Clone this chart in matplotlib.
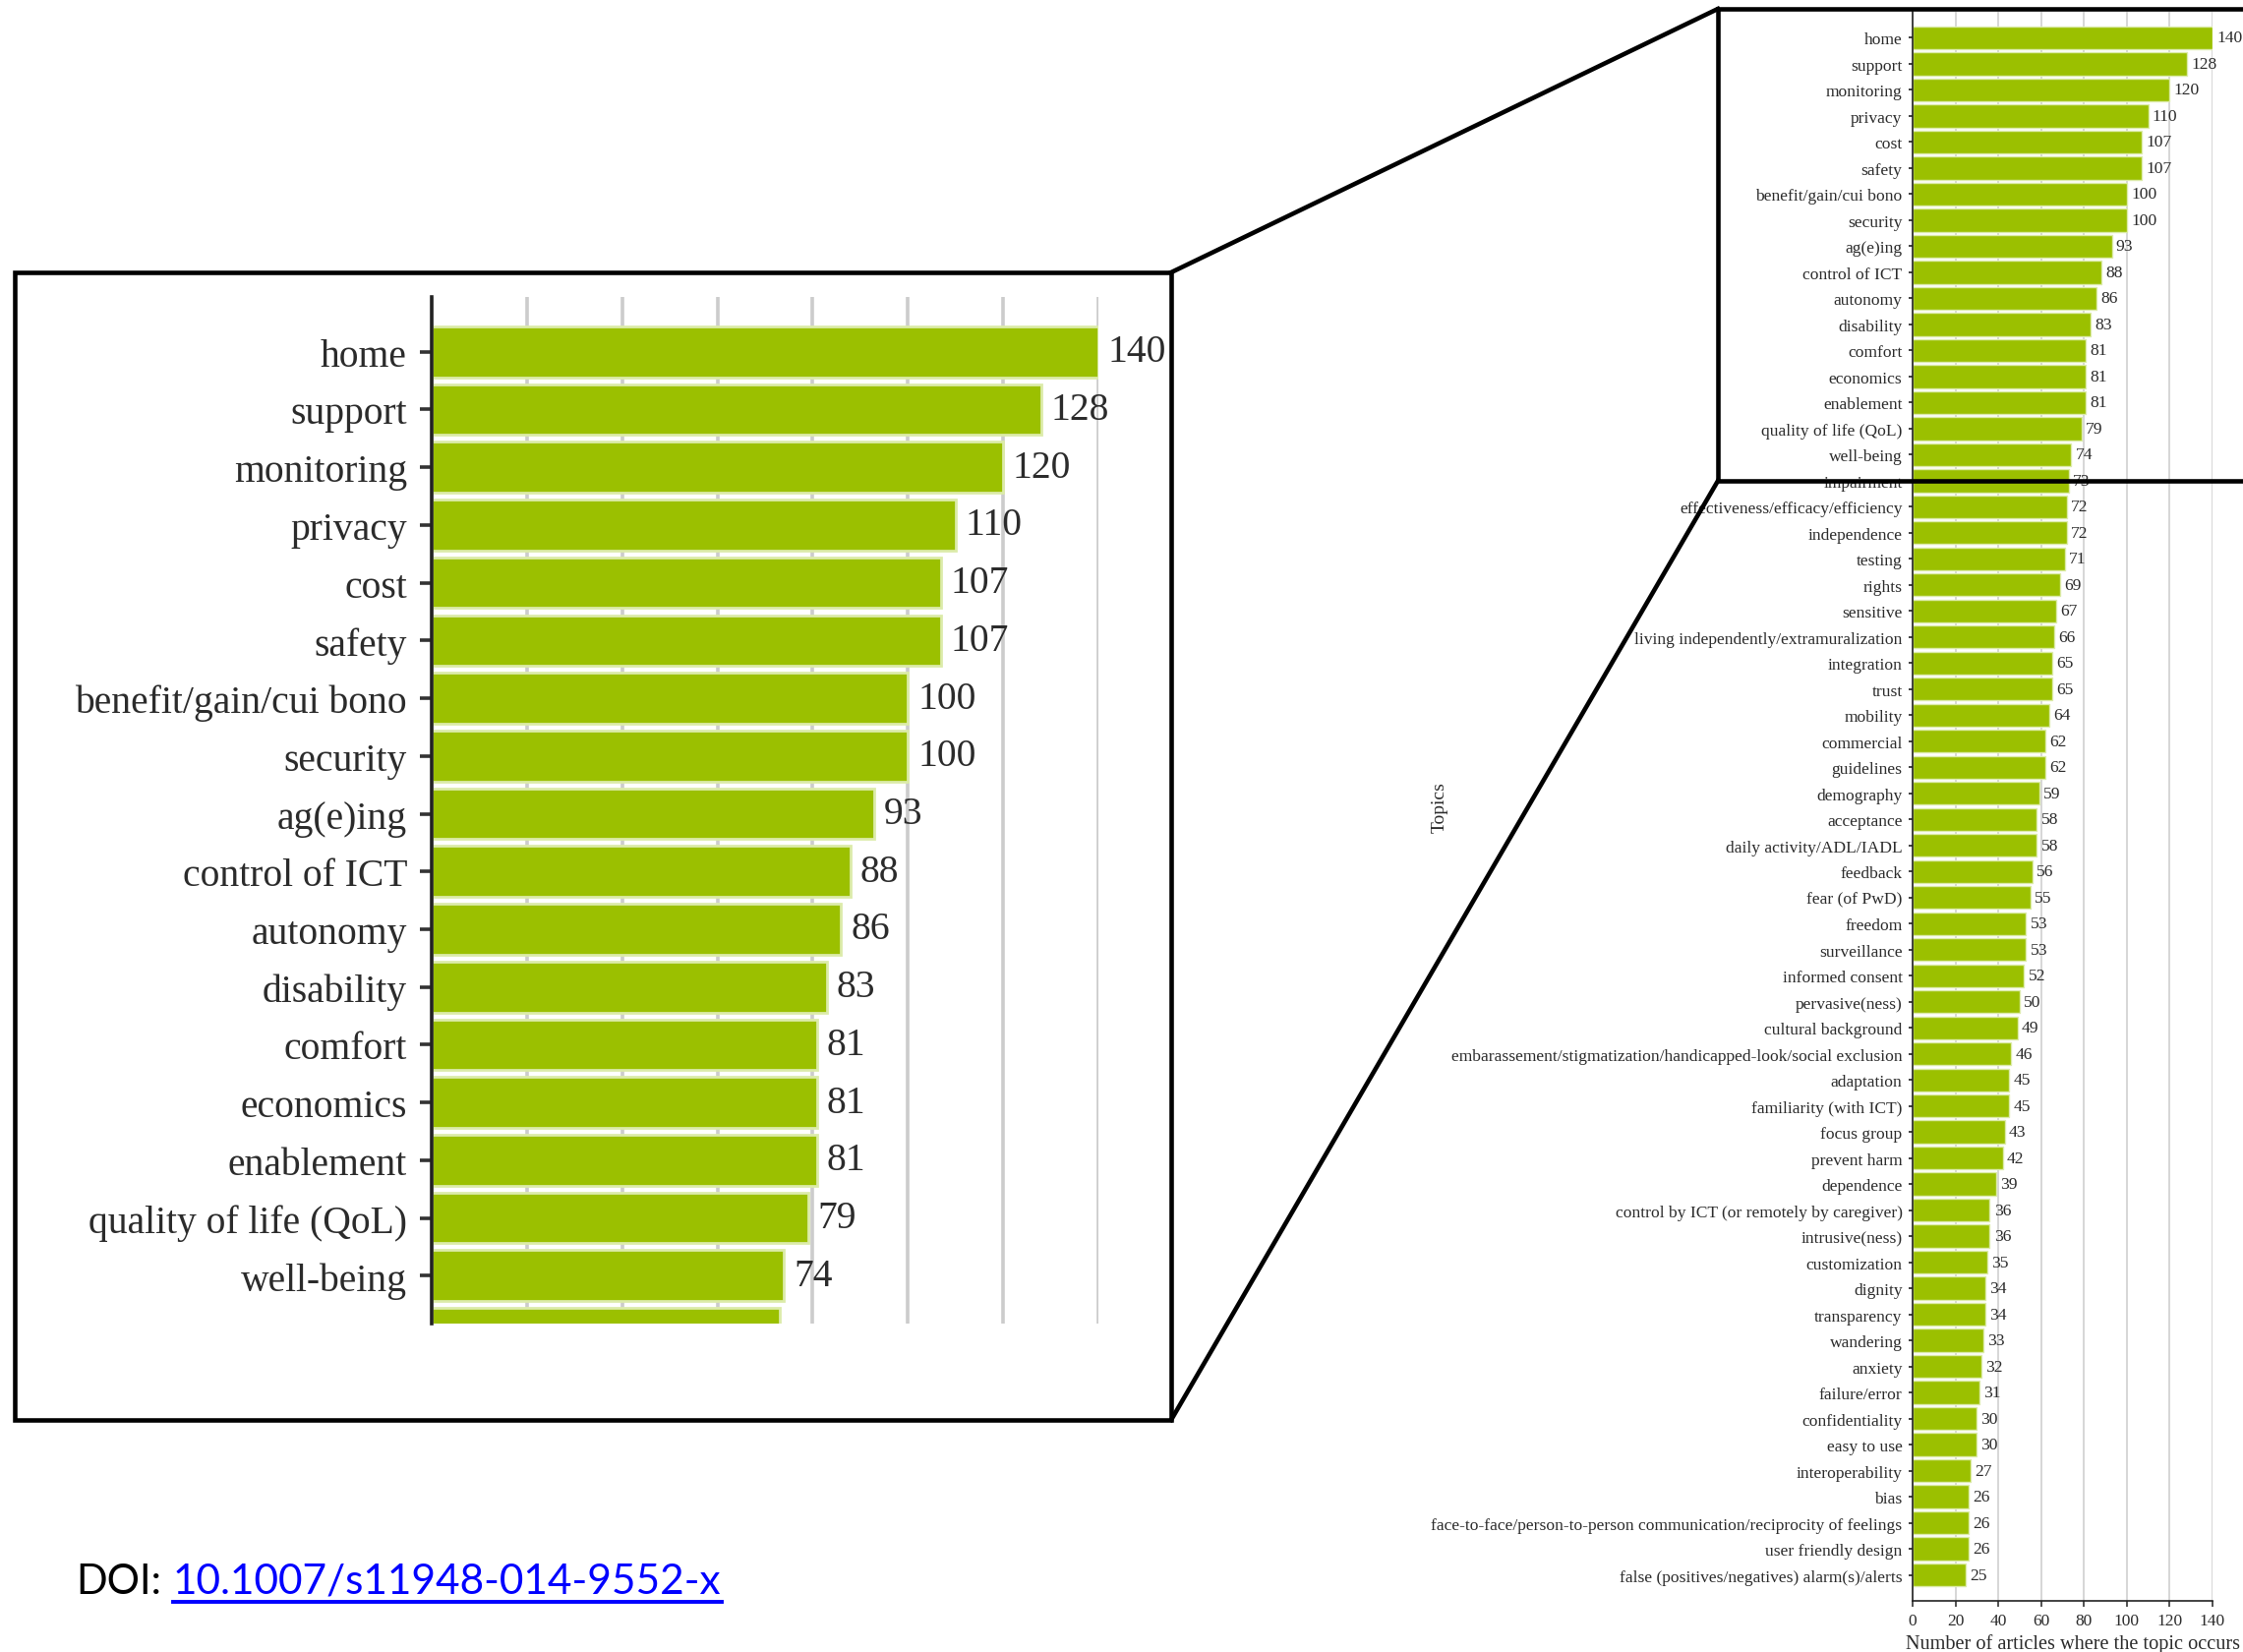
import matplotlib
matplotlib.use('Agg')
import matplotlib.pyplot as plt
from matplotlib.lines import Line2D
from matplotlib.patches import Rectangle

topics = [
    "home", "support", "monitoring", "privacy", "cost", "safety",
    "benefit/gain/cui bono", "security", "ag(e)ing", "control of ICT",
    "autonomy", "disability", "comfort", "economics", "enablement",
    "quality of life (QoL)", "well-being", "impairment",
    "effectiveness/efficacy/efficiency", "independence", "testing", "rights",
    "sensitive", "living independently/extramuralization", "integration",
    "trust", "mobility", "commercial", "guidelines", "demography",
    "acceptance", "daily activity/ADL/IADL", "feedback", "fear (of PwD)",
    "freedom", "surveillance", "informed consent", "pervasive(ness)",
    "cultural background",
    "embarassement/stigmatization/handicapped-look/social exclusion",
    "adaptation", "familiarity (with ICT)", "focus group", "prevent harm",
    "dependence", "control by ICT (or remotely by caregiver)",
    "intrusive(ness)", "customization", "dignity", "transparency",
    "wandering", "anxiety", "failure/error", "confidentiality",
    "easy to use", "interoperability", "bias",
    "face-to-face/person-to-person communication/reciprocity of feelings",
    "user friendly design", "false (positives/negatives) alarm(s)/alerts",
]
counts = [
    140, 128, 120, 110, 107, 107, 100, 100, 93, 88,
    86, 83, 81, 81, 81, 79, 74, 73, 72, 72,
    71, 69, 67, 66, 65, 65, 64, 62, 62, 59,
    58, 58, 56, 55, 53, 53, 52, 50, 49, 46,
    45, 45, 43, 42, 39, 36, 36, 35, 34, 34,
    33, 32, 31, 30, 30, 27, 26, 26, 26, 25,
]
x_ticks = [0, 20, 40, 60, 80, 100, 120, 140]
x_label = "Number of articles where the topic occurs"
y_label = "Topics"
doi_prefix = "DOI:"
doi_link = "10.1007/s11948-014-9552-x"

W, H = 2281, 1681
fig = plt.figure(figsize=(W / 100, H / 100), dpi=100)
fig.patch.set_facecolor('white')


def rect(x0, y0, x1, y1):
    return [x0 / W, 1 - y1 / H, (x1 - x0) / W, (y1 - y0) / H]


BAR = '#9bc000'
EDGE = '#dcebaa'
TXT = '#2b2b2b'
SERIF = ['Liberation Serif', 'DejaVu Serif']


def draw(ax, fs, lw_grid, lw_spine, tick_len, tick_w, lab_pad, val_pad, edge_lw):
    ypos = list(range(len(topics)))
    ax.barh(ypos, counts, height=0.88, color=BAR, edgecolor=EDGE,
            linewidth=edge_lw, zorder=2)
    ax.set_yticks(ypos)
    ax.set_yticklabels(topics, fontfamily=SERIF, fontsize=fs, color=TXT)
    ax.set_xlim(0, 140)
    ax.set_xticks(x_ticks)
    ax.grid(axis='x', color='#cccccc', lw=lw_grid, zorder=0)
    ax.set_axisbelow(True)
    for i, v in enumerate(counts):
        ax.annotate(str(v), (v, i), xytext=(val_pad, 0),
                    textcoords='offset points', va='center', ha='left',
                    fontsize=fs, family=SERIF, color=TXT,
                    annotation_clip=True)
    for s in ['top', 'right']:
        ax.spines[s].set_visible(False)
    ax.spines['left'].set_color('#222222')
    ax.spines['left'].set_linewidth(lw_spine)
    ax.tick_params(axis='y', length=tick_len, width=tick_w, color='#333333',
                   pad=lab_pad)


# ---- main (right) chart ----
ax = fig.add_axes(rect(1945, 13, 2250, 1629))
draw(ax, fs=12.6, lw_grid=1.1, lw_spine=1.2, tick_len=3, tick_w=1.3,
     lab_pad=4.5, val_pad=3, edge_lw=1.0)
ax.set_ylim(60, -1)
ax.spines['bottom'].set_color('#222222')
ax.spines['bottom'].set_linewidth(1.2)
ax.tick_params(axis='x', length=4, width=1.2, color='#333333', pad=5,
               labelsize=12.5, labelcolor=TXT)
for lab in ax.get_xticklabels():
    lab.set_fontfamily(SERIF)
fig.text(2108 / W, 1 - 1672 / H, x_label, ha='center', va='center',
         fontsize=14.6, family=SERIF, color=TXT)
fig.text(1464 / W, 1 - 821 / H, y_label, ha='center', va='center',
         rotation=90, fontsize=14, family=SERIF, color=TXT)

# ---- zoomed inset (left) ----
axi = fig.add_axes(rect(439, 303, 1117, 1347))
draw(axi, fs=28.5, lw_grid=2.6, lw_spine=2.6, tick_len=9, tick_w=2.6,
     lab_pad=9, val_pad=7, edge_lw=2.0)
axi.set_ylim(16.83, -0.95)
axi.spines['bottom'].set_visible(False)
axi.tick_params(axis='x', length=0, labelbottom=False)

# ---- frames and connector lines ----
LW = 3.3
fig.add_artist(Rectangle((14.5 / W, 1 - 1445 / H), (1191 - 14.5) / W,
                         (1445 - 278) / H, transform=fig.transFigure,
                         fill=False, ec='black', lw=LW, zorder=5))
fig.add_artist(Rectangle((1747 / W, 1 - 490 / H), (2300 - 1747) / W,
                         (490 - 10) / H, transform=fig.transFigure,
                         fill=False, ec='black', lw=LW, zorder=5,
                         clip_on=False))
fig.add_artist(Line2D([1191 / W, 1747 / W], [1 - 278 / H, 1 - 10 / H],
                      color='black', lw=LW, zorder=5))
fig.add_artist(Line2D([1191 / W, 1747 / W], [1 - 1445 / H, 1 - 490 / H],
                      color='black', lw=LW, zorder=5))

# ---- DOI text ----
t1 = fig.text(77 / W, 1 - 1609 / H, doi_prefix, fontsize=30, family='Lato',
              va='center', ha='left', color='black')
fig.canvas.draw()
r = fig.canvas.get_renderer()
bb = t1.get_window_extent(r)
t2 = fig.text((bb.x1 + 12) / W, 1 - 1609 / H, doi_link, fontsize=30.5,
              family='Lato', va='center', ha='left', color='#0000ff')
bb2 = t2.get_window_extent(r)
fig.add_artist(Line2D([bb2.x0 / W, bb2.x1 / W], [1 - 1630 / H, 1 - 1630 / H],
                      color='#0000ff', lw=2.8))

fig.savefig('out.png', dpi=100, facecolor='white')
